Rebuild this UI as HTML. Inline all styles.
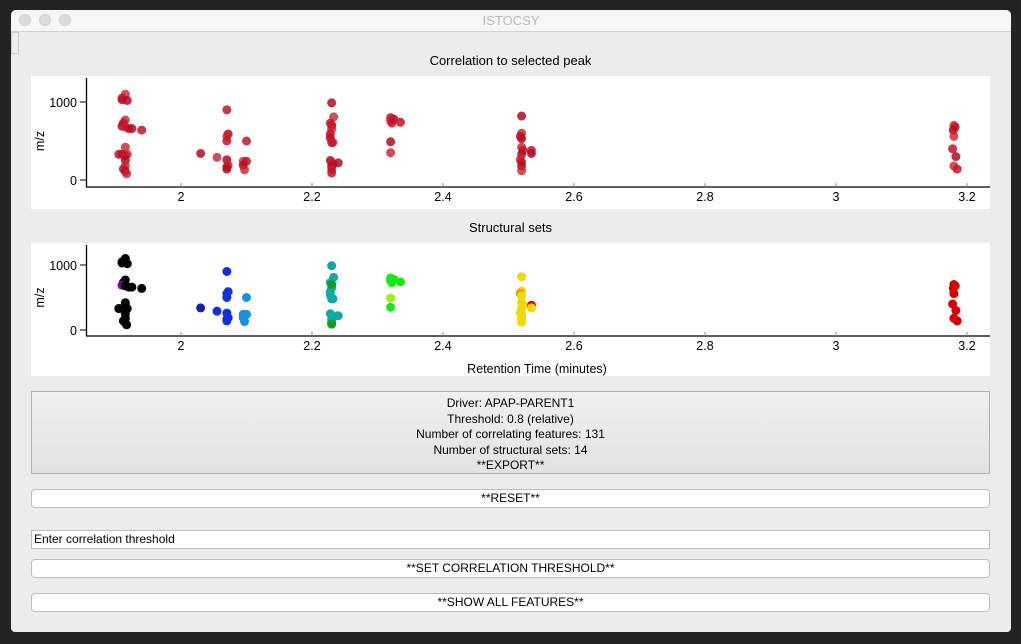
<!DOCTYPE html>
<html><head><meta charset="utf-8"><style>
body{margin:0;width:1021px;height:644px;background:#232323;font-family:"Liberation Sans",sans-serif;overflow:hidden;position:relative}
#win{position:absolute;left:11px;top:10px;width:1000px;height:622px;background:#ececec;border-radius:5px 5px 4px 4px;overflow:hidden}
#tb{position:absolute;left:0;top:0;width:1000px;height:21px;background:#f6f6f6;border-bottom:1px solid #d0d0d0;text-align:center;font-size:13px;line-height:21px;color:#b8b8b8}
.dot{position:absolute;top:4px;width:12px;height:12px;border-radius:50%;background:#dcdcdc;border:1px solid #d0d0d0;box-sizing:border-box}
.t{position:absolute;left:0;width:1021px;text-align:center;font-size:13px;color:#000}
.btn{position:absolute;left:31px;width:959px;height:19px;background:#fff;border:1px solid #bdbdbd;border-radius:4px;box-sizing:border-box;text-align:center;font-size:12px;line-height:17px}
</style></head><body>
<div id="win">
<div id="tb">ISTOCSY
<div class="dot" style="left:8px"></div>
<div class="dot" style="left:28px"></div>
<div class="dot" style="left:48px"></div>
</div>
<div style="position:absolute;left:0;top:22px;width:6px;height:20px;border:1px solid #ccc;background:#eee"></div>
</div>
<div class="t" style="top:53px">Correlation to selected peak</div>
<div class="t" style="top:220px">Structural sets</div>
<svg id="svg" width="1021" height="644" style="position:absolute;left:0;top:0"></svg>
<div style="position:absolute;left:31px;top:391px;width:959px;height:83px;box-sizing:border-box;border:1px solid #b0b0b0;background:linear-gradient(#f0f0f0,#e2e2e2);text-align:center;font-size:12px;line-height:15.5px;padding-top:4px">Driver: APAP-PARENT1<br>Threshold: 0.8 (relative)<br>Number of correlating features: 131<br>Number of structural sets: 14<br>**EXPORT**</div>
<div class="btn" style="top:489px">**RESET**</div>
<div class="btn" style="top:530px;border-radius:0;text-align:left;padding-left:2px">Enter correlation threshold</div>
<div class="btn" style="top:559px">**SET CORRELATION THRESHOLD**</div>
<div class="btn" style="top:593px">**SHOW ALL FEATURES**</div>
<script>
const times=[1.91,1.915,1.91,1.918,1.915,1.912,1.91,1.915,1.92,1.925,1.915,1.905,1.91,1.918,1.915,1.915,1.915,1.912,1.915,1.917,1.94,
2.03,2.055,2.07,2.072,2.07,2.07,2.07,2.072,2.07,2.07,2.095,2.1,2.095,2.097,2.1,
2.23,2.233,2.228,2.23,2.23,2.228,2.228,2.232,2.23,2.228,2.23,2.232,2.23,2.23,2.23,2.24,2.23,
2.32,2.325,2.32,2.322,2.32,2.32,2.335,
2.52,2.52,2.518,2.52,2.52,2.522,2.52,2.518,2.52,2.52,2.52,2.535,2.535,
3.18,3.182,3.179,3.18,3.178,3.183,3.18,3.185];
const mzs=[1030,1100,1050,1020,770,730,690,680,660,660,420,330,330,330,310,250,180,140,110,80,640,
340,290,900,590,560,500,260,190,170,140,240,240,190,130,500,
990,810,730,700,650,590,540,480,480,250,220,200,170,130,90,220,700,
800,780,760,730,490,350,740,
820,600,560,530,420,380,330,260,230,180,120,380,340,
700,680,640,560,400,300,180,140];
const groups=[0,0,0,0,0,0,1,0,0,0,0,0,0,0,0,0,0,0,0,0,0,
2,3,3,3,3,3,3,3,3,3,4,4,4,4,4,
5,5,5,5,5,5,5,5,5,5,5,5,5,5,6,5,6,
7,7,7,7,8,7,7,
9,9,10,9,9,9,9,9,9,9,9,11,9,
12,12,12,12,12,12,12,12];
const groupColors=['#000000','#7a0a8a','#1c1ab0','#1030e0','#1a90e0','#10a8a8','#10a020','#18e818','#a0f018','#f0d800','#f08a00','#e80000','#d80000'];
const xTicks=[2,2.2,2.4,2.6,2.8,3,3.2];
const yTicks=[0,1000];
const svg=document.getElementById('svg');
const NS='http://www.w3.org/2000/svg';
function mk(tag,attrs){const e=document.createElementNS(NS,tag);for(const k in attrs)e.setAttribute(k,attrs[k]);svg.appendChild(e);return e;}
const xs=t=>181+(t-2)*655;
function chart(top,y1000,y0,axisY,colored,name){
  const ys=v=>y0+(y1000-y0)*v/1000;
  const p=mk('rect',{x:31,y:top,width:959,height:133,fill:'#fff'});
  
  
  const ax=mk('line',{x1:86,y1:axisY,x2:990,y2:axisY,stroke:'#000','stroke-width':1.3});
  
  
  const ay=mk('line',{x1:86.5,y1:top+2,x2:86.5,y2:axisY,stroke:'#000','stroke-width':1.3});
  
  
  xTicks.forEach(t=>{
    mk('line',{x1:xs(t),y1:axisY,x2:xs(t),y2:axisY-4,stroke:'#888'});
    const tx=mk('text',{x:xs(t),y:axisY+14,'text-anchor':'middle','font-size':12.5,'font-family':'Liberation Sans'});
    tx.textContent=String(t);
    
    
  });
  yTicks.forEach(v=>{
    mk('line',{x1:86,y1:ys(v),x2:80,y2:ys(v),stroke:'#000'});
    const tx=mk('text',{x:77,y:ys(v)+5,'text-anchor':'end','font-size':12.5,'font-family':'Liberation Sans'});
    tx.textContent=String(v);
    
    
  });
  const yl=mk('text',{x:0,y:0,'text-anchor':'middle','font-size':12.5,'font-family':'Liberation Sans',transform:`translate(44,${(y0+y1000)/2}) rotate(-90)`});
  yl.textContent='m/z';
  
  
  times.forEach((t,i)=>{
    const fill=colored?groupColors[groups[i]]:(i%3==0?'rgba(180,10,35,0.85)':i%3==1?'rgba(205,30,45,0.8)':'rgba(195,20,40,0.85)');
    const c=mk('circle',{cx:xs(t),cy:ys(mzs[i]),r:4.5,fill:fill});
    
    
  });
}
chart(76,102,180,187,false,'correlation');
chart(243,265,330,336,true,'structural');
const xl=mk('text',{x:537,y:373,'text-anchor':'middle','font-size':12.5,'font-family':'Liberation Sans'});
xl.textContent='Retention Time (minutes)';


</script>
</body></html>
